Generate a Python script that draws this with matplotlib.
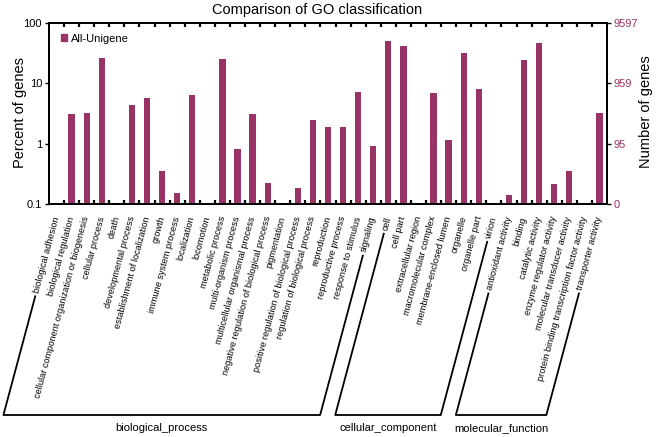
import matplotlib
matplotlib.use('Agg')
import matplotlib.pyplot as plt
from matplotlib.patches import Patch
from matplotlib.lines import Line2D
from matplotlib.ticker import FixedLocator, FixedFormatter, NullLocator
import numpy as np

plt.rcParams['font.family'] = ['Liberation Sans', 'DejaVu Sans']

categories = [
    'biological adhesion', 'biological regulation',
    'cellular component organization or biogenesis', 'cellular process', 'death',
    'developmental process', 'establishment of localization', 'growth',
    'immune system process', 'localization', 'locomotion', 'metabolic process',
    'multi-organism process', 'multicellular organismal process',
    'negative regulation of biological process', 'pigmentation',
    'positive regulation of biological process', 'regulation of biological process',
    'reproduction', 'reproductive process', 'response to stimulus', 'signaling',
    'cell', 'cell part', 'extracellular region', 'macromolecular complex',
    'membrane-enclosed lumen', 'organelle', 'organelle part', 'virion',
    'antioxidant activity', 'binding', 'catalytic activity',
    'enzyme regulator activity', 'molecular transducer activity',
    'protein binding transcription factor activity', 'transporter activity',
]
percent = [
    0.01, 3.07, 3.27, 26.1, 0.01,
    4.38, 5.66, 0.34,
    0.145, 6.42, 0.01, 25.0,
    0.82, 3.07,
    0.217, 0.01,
    0.175, 2.47,
    1.91, 1.87, 7.28, 0.89,
    50.5, 41.7, 0.01, 6.85,
    1.15, 31.5, 8.07, 0.01,
    0.132, 24.4, 46.2,
    0.207, 0.336,
    0.01, 3.27,
]
groups = ['biological_process', 'cellular_component', 'molecular_function']
group_sizes = [22, 8, 7]
left_ticks = [0.1, 1, 10, 100]
left_tick_labels = ['0.1', '1', '10', '100']
right_tick_labels = ['0', '95', '959', '9597']
series_name = 'All-Unigene'

BAR = '#993366'
W, H = 656, 437
fig = plt.figure(figsize=(W / 100, H / 100), dpi=100)
ax = fig.add_axes([49 / W, 1 - 204 / H, (607 - 49) / W, (204 - 23) / H])
x = np.arange(len(categories))
ax.set_yscale('log')
ax.bar(x, percent, width=0.42, color=BAR, bottom=0.01, zorder=2)
ax.set_ylim(0.1, 100)
ax.set_xlim(-0.5, len(categories) - 0.5)

ax.yaxis.set_major_locator(FixedLocator(left_ticks))
ax.yaxis.set_major_formatter(FixedFormatter(left_tick_labels))
ax.yaxis.set_minor_locator(NullLocator())
ax.tick_params(axis='y', which='major', direction='out', length=3, width=1, labelsize=8, pad=2)

ax.set_xticks(np.arange(0.5, len(categories) - 1, 1))
ax.set_xticks(x, minor=True)
ax.set_xticklabels(categories, minor=True, rotation=75, ha='right', va='center',
                   rotation_mode='anchor', fontsize=6.6)
ax.tick_params(axis='x', which='major', direction='in', top=True, bottom=True,
               length=3, width=1.6, labelbottom=False)
ax.tick_params(axis='x', which='minor', length=0, pad=9)

for s in ax.spines.values():
    s.set_linewidth(1.4)

fig.text(317 / W, 1 - 10 / H, 'Comparison of GO classification', ha='center',
         va='center', fontsize=10.5)
fig.text(20 / W, 1 - 112 / H, 'Percent of genes', rotation=90, ha='center',
         va='center', fontsize=10.5)

ax2 = ax.twinx()
ax2.set_yscale('log')
ax2.set_ylim(0.1, 100)
ax2.yaxis.set_major_locator(FixedLocator(left_ticks))
ax2.yaxis.set_major_formatter(FixedFormatter(right_tick_labels))
ax2.yaxis.set_minor_locator(NullLocator())
ax2.tick_params(axis='y', which='major', direction='out', length=3, width=1,
                labelsize=8, labelcolor=BAR, pad=2)
for s in ax2.spines.values():
    s.set_linewidth(1.4)
fig.text(646 / W, 1 - 112 / H, 'Number of genes', rotation=90, ha='center',
         va='center', fontsize=10.5)

ax.legend(handles=[Patch(color=BAR, label=series_name)], loc='upper left',
          frameon=False, fontsize=8, handlelength=0.6, handleheight=0.6,
          handletextpad=0.3, borderaxespad=0.4, bbox_to_anchor=(0.005, 0.99))

# group brackets
fig.canvas.draw()
renderer = fig.canvas.get_renderer()
labels = ax.xaxis.get_minorticklabels()
theta = np.deg2rad(75)
c, s_ = np.cos(theta), np.sin(theta)
h = 6.6 * 100 / 72 * 1.0
gap = 4
y_bot = H - 415


def foot(lbl):
    bb = lbl.get_window_extent(renderer)
    ex = bb.x0 + h / 2 * s_
    ey = bb.y0 + h / 2 * c
    sx, sy = ex - gap * c, ey - gap * s_
    bx = sx - (sy - y_bot) * c / s_
    return (sx, sy), (bx, y_bot)

start = 0
for g, n in zip(groups, group_sizes):
    first, last = labels[start], labels[start + n - 1]
    (s1, b1) = foot(first)
    (s2, b2) = foot(last)
    xs = [s1[0], b1[0], b2[0], s2[0]]
    ys = [s1[1], b1[1], b2[1], s2[1]]
    fig.add_artist(Line2D(xs, ys, transform=None, color='black', lw=1.3))
    fig.text((b1[0] + b2[0]) / 2 / W, (H - 428) / H, g, ha='center', va='center',
             fontsize=8)
    start += n

fig.savefig('out.png', dpi=100)
